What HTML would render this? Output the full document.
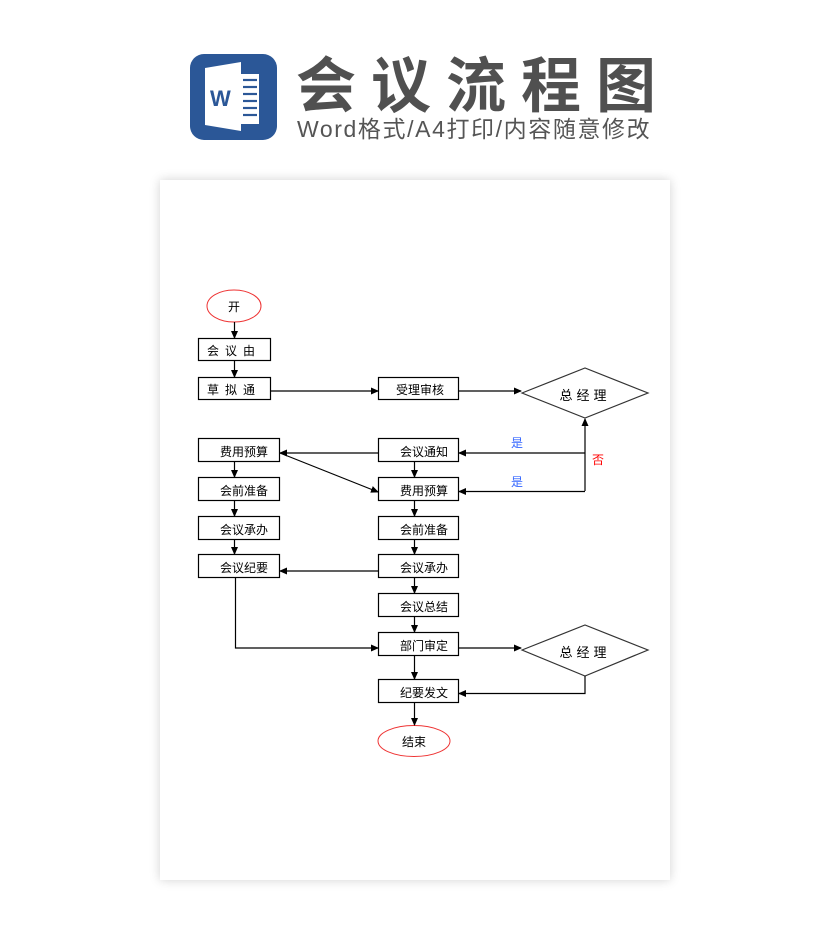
<!DOCTYPE html>
<html><head><meta charset="utf-8"><style>
html,body{margin:0;padding:0;background:#fff;width:830px;height:945px;overflow:hidden;font-family:"Liberation Sans","Noto Sans CJK SC",sans-serif}
.paper{position:absolute;left:160px;top:180px;width:510px;height:700px;background:#fff;box-shadow:0 0 10px rgba(0,0,0,0.18)}
.title{position:absolute;left:296px;top:44px;font-size:60px;font-weight:bold;color:#505050;letter-spacing:15px;font-family:"Noto Sans CJK SC",sans-serif;line-height:76px;white-space:nowrap}
.sub{position:absolute;left:297px;top:114px;font-size:23px;color:#555;font-family:"Liberation Sans","Noto Sans CJK SC",sans-serif;white-space:nowrap;letter-spacing:1.6px;line-height:30px}
</style></head><body>
<svg style="position:absolute;left:0;top:0" width="830" height="945">
<rect x="190" y="54" width="87" height="86" rx="14" fill="#2b5797"/>
<polygon points="205,68 241,62 241,131 205,125" fill="#fff"/>
<rect x="241" y="74" width="18" height="50" fill="#fff"/>
<g stroke="#2b5797" stroke-width="2.2"><line x1="243" y1="80" x2="257" y2="80"/><line x1="243" y1="87" x2="257" y2="87"/><line x1="243" y1="94" x2="257" y2="94"/><line x1="243" y1="101" x2="257" y2="101"/><line x1="243" y1="108" x2="257" y2="108"/><line x1="243" y1="115" x2="257" y2="115"/></g>
<text x="210" y="106" font-size="22" font-weight="bold" fill="#2b5797" font-family="Liberation Sans">W</text>
</svg>
<div class="title">会议流程图</div>
<div class="sub">Word格式/A4打印/内容随意修改</div>
<div class="paper"></div>
<svg style="position:absolute;left:0;top:0" width="830" height="945" font-family="'Liberation Sans','Noto Sans CJK SC',sans-serif" font-size="12">
<defs><marker id="a" markerWidth="8" markerHeight="8" refX="7" refY="4" orient="auto" markerUnits="userSpaceOnUse"><path d="M0,0.5 L8,4 L0,7.5z" fill="#000"/></marker></defs>
<g fill="none" stroke="#ee3333" stroke-width="1"><ellipse cx="234" cy="306" rx="27" ry="16"/><ellipse cx="414" cy="741" rx="36" ry="15.5"/></g>
<g fill="#fff" stroke="#000" stroke-width="1.2">
<rect x="198.5" y="338.5" width="72" height="22"/>
<rect x="198.5" y="377.5" width="72" height="22"/>
<rect x="378.5" y="377.5" width="80" height="22"/>
<rect x="198.5" y="438.5" width="81" height="23"/>
<rect x="198.5" y="477.5" width="81" height="23"/>
<rect x="198.5" y="516.5" width="81" height="23"/>
<rect x="198.5" y="554.5" width="81" height="23"/>
<rect x="378.5" y="438.5" width="80" height="23"/>
<rect x="378.5" y="477.5" width="80" height="23"/>
<rect x="378.5" y="516.5" width="80" height="23"/>
<rect x="378.5" y="554.5" width="80" height="23"/>
<rect x="378.5" y="593.5" width="80" height="23"/>
<rect x="378.5" y="632.5" width="80" height="23"/>
<rect x="378.5" y="679.5" width="80" height="23"/>
<polygon points="522,393 585,368 648,393 585,418" stroke="#333"/>
<polygon points="522,650 585,625 648,650 585,676" stroke="#333"/>
</g>
<g stroke="#000" stroke-width="1.2" fill="none" marker-end="url(#a)">
<line x1="234.5" y1="322" x2="234.5" y2="338"/>
<line x1="234.5" y1="361" x2="234.5" y2="377"/>
<line x1="271" y1="391" x2="378" y2="391"/>
<line x1="459" y1="391" x2="521" y2="391"/>
<line x1="234.5" y1="462" x2="234.5" y2="477"/>
<line x1="234.5" y1="501" x2="234.5" y2="516"/>
<line x1="234.5" y1="540" x2="234.5" y2="554"/>
<line x1="414.5" y1="462" x2="414.5" y2="477"/>
<line x1="414.5" y1="501" x2="414.5" y2="516"/>
<line x1="414.5" y1="540" x2="414.5" y2="554"/>
<line x1="414.5" y1="578" x2="414.5" y2="593"/>
<line x1="414.5" y1="617" x2="414.5" y2="632"/>
<line x1="414.5" y1="656" x2="414.5" y2="679"/>
<line x1="414.5" y1="703" x2="414.5" y2="725"/>
<line x1="378" y1="453" x2="280" y2="453"/>
<line x1="280" y1="453" x2="378" y2="492"/>
<polyline points="585,453 459,453"/>
<polyline points="585,491.5 459,491.5"/>
<line x1="585" y1="491" x2="585" y2="419"/>
<line x1="378" y1="571" x2="280" y2="571"/>
<polyline points="235.5,578 235.5,648 378,648"/>
<line x1="459" y1="648" x2="521" y2="648"/>
<polyline points="585,676 585,693.5 459,693.5"/>
</g>
<g fill="#000" text-anchor="middle">
<text x="234" y="311">开</text>
<text x="234" y="355" letter-spacing="6">会议由</text>
<text x="234" y="394" letter-spacing="6">草拟通</text>
<text x="420" y="394">受理审核</text>
<text x="585" y="400" font-size="13" letter-spacing="4">总经理</text>
<text x="244" y="456">费用预算</text>
<text x="244" y="495">会前准备</text>
<text x="244" y="534">会议承办</text>
<text x="244" y="572">会议纪要</text>
<text x="424" y="456">会议通知</text>
<text x="424" y="495">费用预算</text>
<text x="424" y="534">会前准备</text>
<text x="424" y="572">会议承办</text>
<text x="424" y="611">会议总结</text>
<text x="424" y="650">部门审定</text>
<text x="424" y="697">纪要发文</text>
<text x="585" y="657" font-size="13" letter-spacing="4">总经理</text>
<text x="414" y="746">结束</text>
<text x="517" y="447" fill="#3366ff">是</text>
<text x="517" y="486" fill="#3366ff">是</text>
<text x="598" y="464" fill="#ff0000">否</text>
</g>
</svg>
</body></html>
